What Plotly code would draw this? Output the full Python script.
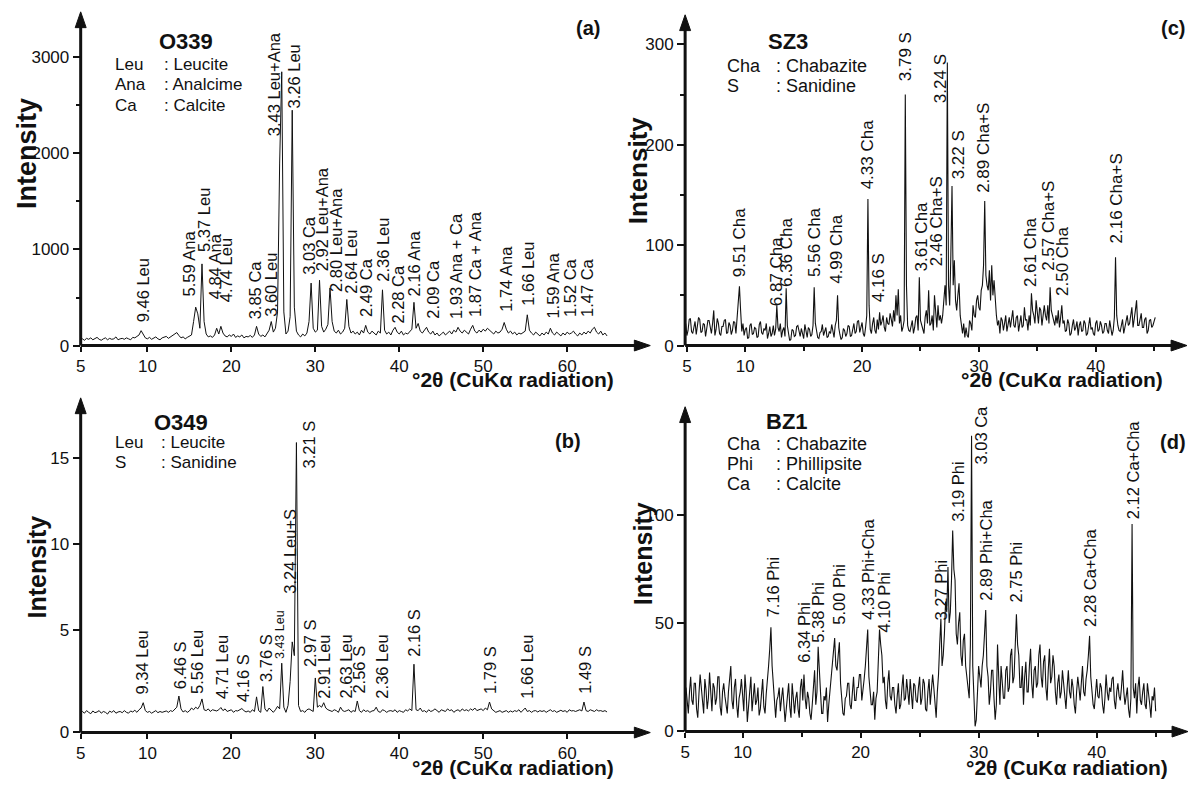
import numpy as np
import plotly.graph_objects as go

W, H = 1190, 786
FONT = "Liberation Sans, Arial, Helvetica, sans-serif"

# ---------------- data ----------------
# step-scan grids (degrees 2-theta)
two_theta_ab = np.round(2.0 + 0.25 * np.arange(252), 2)
two_theta_c = np.round(4.9 + 0.1 * np.arange(403), 2)
two_theta_d = np.round(5.2 + 0.1 * np.arange(399), 2)

intensity_a = [
    60, 70, 55, 75, 65, 80, 60, 70, 85, 65, 55, 70, 80, 60, 75, 65, 70, 90, 60, 70,
    75, 65, 80, 70, 60, 85, 80, 95, 110, 155, 120, 80, 70, 85, 65, 75, 90, 70, 60, 80,
    85, 95, 75, 90, 110, 120, 135, 105, 80, 90, 70, 85, 95, 110, 250, 400, 330, 180, 850, 250,
    120, 90, 100, 85, 110, 180, 120, 200, 130, 100, 90, 110, 95, 120, 85, 100, 90, 110, 80, 95,
    90, 105, 85, 110, 200, 120, 95, 110, 90, 120, 160, 250, 140, 180, 350, 1900, 2850, 350, 120, 150,
    300, 2450, 400, 150, 110, 90, 120, 100, 130, 250, 650, 180, 140, 160, 680, 200, 140, 170, 220, 600,
    250, 150, 130, 160, 120, 140, 180, 480, 200, 130, 150, 120, 140, 110, 160, 130, 210, 140, 120, 150,
    130, 110, 150, 130, 580, 160, 120, 140, 110, 160, 190, 140, 120, 150, 110, 130, 120, 140, 170, 450,
    180, 230, 150, 130, 160, 190, 140, 120, 150, 110, 130, 100, 120, 140, 110, 130, 150, 120, 160, 140,
    190, 150, 130, 160, 140, 120, 170, 210, 150, 130, 160, 140, 170, 150, 180, 160, 140, 120, 150, 130,
    140, 170, 240, 170, 130, 150, 120, 140, 110, 130, 120, 140, 150, 320, 160, 130, 110, 140, 120, 100,
    130, 110, 140, 120, 180, 130, 110, 140, 120, 100, 130, 110, 140, 120, 130, 150, 120, 100, 130, 110,
    140, 120, 150, 130, 170, 190, 140, 120, 150, 110, 130, 100,
]

intensity_b = [
    0.2, 0.25, 0.15, 0.3, 0.2, 0.12, 0.28, 0.18, 0.22, 0.3, 0.15, 0.25, 0.2, 0.1, 0.27, 0.2, 0.3, 0.15, 0.22, 0.25,
    0.18, 0.3, 0.2, 0.15, 0.28, 0.22, 0.32, 0.2, 0.35, 0.45, 0.76, 0.3, 0.2, 0.25, 0.15, 0.22, 0.3, 0.18, 0.25, 0.2,
    0.22, 0.28, 0.2, 0.3, 0.25, 0.35, 0.5, 1.15, 0.4, 0.22, 0.3, 0.2, 0.28, 0.45, 0.35, 0.5, 0.4, 0.6, 0.98, 0.35,
    0.3, 0.4, 0.25, 0.35, 0.3, 0.28, 0.35, 0.48, 0.3, 0.4, 0.25, 0.3, 0.35, 0.2, 0.3, 0.28, 0.35, 0.42, 0.3, 0.22,
    0.28, 0.2, 0.35, 0.25, 1.1, 0.3, 0.2, 1.7, 0.4, 0.25, 0.45, 0.3, 0.2, 0.35, 0.55, 0.4, 3.06, 0.5, 0.2, 0.6,
    2.0, 4.3, 3.5, 15.9, 0.6, 0.25, 0.3, 0.2, 0.35, 0.4, 0.3, 0.25, 2.2, 0.5, 0.6, 0.5, 0.76, 0.45, 0.35, 0.3,
    0.25, 0.35, 0.3, 0.2, 0.5, 0.3, 0.25, 0.3, 0.35, 0.2, 0.3, 0.25, 0.86, 0.3, 0.2, 0.35, 0.25, 0.3, 0.2, 0.28,
    0.3, 0.5, 0.25, 0.2, 0.35, 0.3, 0.2, 0.28, 0.3, 0.25, 0.35, 0.2, 0.3, 0.25, 0.2, 0.35, 0.28, 0.4, 0.3, 3.0,
    0.35, 0.3, 0.45, 0.25, 0.3, 0.2, 0.35, 0.25, 0.3, 0.4, 0.28, 0.2, 0.35, 0.3, 0.25, 0.4, 0.3, 0.35, 0.2, 0.3,
    0.35, 0.25, 0.4, 0.3, 0.35, 0.28, 0.4, 0.32, 0.45, 0.3, 0.35, 0.4, 0.3, 0.45, 0.35, 0.8, 0.4, 0.3, 0.2, 0.25,
    0.3, 0.2, 0.25, 0.3, 0.2, 0.28, 0.22, 0.3, 0.25, 0.35, 0.2, 0.3, 0.45, 0.25, 0.3, 0.2, 0.28, 0.3, 0.22, 0.3,
    0.25, 0.3, 0.2, 0.28, 0.35, 0.25, 0.3, 0.2, 0.28, 0.32, 0.25, 0.3, 0.2, 0.35, 0.28, 0.3, 0.25, 0.3, 0.35, 0.28,
    0.8, 0.3, 0.25, 0.35, 0.3, 0.25, 0.35, 0.28, 0.3, 0.25, 0.3, 0.22,
]

intensity_c = [
    22, 10, 15, 26, 27, 14, 12, 20, 24, 11, 18, 28, 26, 13, 14, 22, 21, 9, 17, 25,
    25, 16, 12, 22, 35, 10, 16, 27, 22, 12, 10, 19, 19, 25, 26, 12, 13, 23, 20, 11,
    15, 24, 23, 12, 30, 40, 59, 35, 14, 22, 10, 16, 18, 7, 8, 20, 22, 11, 12, 18,
    17, 8, 9, 21, 24, 13, 11, 17, 15, 22, 7, 12, 19, 9, 12, 20, 10, 16, 40, 18,
    14, 22, 8, 15, 18, 9, 57, 20, 12, 5, 6, 16, 15, 9, 10, 19, 20, 12, 9, 17,
    13, 7, 21, 14, 8, 18, 16, 9, 11, 20, 58, 22, 15, 8, 7, 13, 14, 21, 10, 15,
    18, 8, 9, 14, 12, 21, 16, 8, 20, 25, 50, 18, 11, 6, 8, 17, 15, 9, 12, 20,
    19, 9, 10, 17, 22, 12, 14, 24, 25, 13, 17, 23, 12, 9, 18, 30, 146, 40, 16, 12,
    22, 28, 15, 12, 26, 16, 33, 20, 24, 30, 18, 14, 28, 22, 21, 32, 26, 19, 35, 24,
    50, 30, 56, 22, 30, 14, 18, 25, 250, 60, 20, 15, 14, 22, 25, 12, 18, 28, 30, 15,
    68, 25, 20, 14, 12, 28, 35, 22, 55, 20, 22, 30, 15, 50, 28, 18, 40, 25, 30, 22,
    30, 45, 60, 40, 282, 60, 40, 90, 159, 60, 85, 45, 35, 50, 62, 30, 20, 12, 22, 8,
    18, 10, 8, 25, 22, 15, 40, 30, 28, 45, 50, 38, 35, 55, 60, 80, 144, 70, 60, 55,
    75, 45, 80, 50, 65, 40, 30, 20, 25, 12, 28, 25, 15, 22, 30, 14, 20, 28, 18, 25,
    35, 20, 18, 28, 30, 14, 22, 30, 18, 20, 38, 25, 26, 15, 30, 20, 52, 35, 30, 22,
    45, 30, 22, 38, 35, 20, 28, 40, 30, 25, 40, 22, 58, 35, 30, 25, 20, 30, 22, 35,
    18, 28, 40, 22, 25, 14, 15, 26, 22, 10, 12, 20, 26, 15, 18, 24, 10, 20, 24, 14,
    15, 25, 22, 10, 12, 20, 28, 16, 18, 12, 10, 22, 25, 14, 16, 24, 20, 12, 14, 22,
    22, 15, 12, 25, 18, 10, 15, 28, 88, 30, 20, 15, 14, 22, 26, 12, 18, 25, 30, 20,
    22, 30, 38, 18, 25, 35, 45, 20, 20, 28, 32, 18, 18, 26, 28, 12, 15, 25, 26, 18,
    20, 24, 28,
]

intensity_d = [
    20, 12, 8, 18, 25, 14, 12, 22, 22, 10, 6, 17, 26, 20, 14, 8, 24, 19, 10, 15,
    27, 15, 9, 22, 20, 12, 15, 25, 25, 11, 7, 18, 22, 16, 12, 8, 18, 26, 30, 14,
    10, 20, 24, 12, 6, 15, 18, 24, 13, 9, 26, 18, 4, 12, 20, 25, 9, 16, 22, 12,
    14, 20, 7, 10, 19, 24, 11, 8, 17, 22, 30, 38, 48, 30, 22, 12, 6, 14, 16, 20,
    9, 15, 20, 12, 4, 10, 15, 22, 11, 6, 22, 14, 8, 15, 18, 10, 6, 20, 24, 14,
    26, 15, 10, 18, 15, 8, 5, 12, 20, 28, 12, 18, 39, 25, 18, 8, 8, 16, 14, 20,
    4, 12, 18, 25, 30, 36, 43, 30, 28, 35, 41, 22, 12, 8, 7, 15, 16, 22, 22, 12,
    10, 18, 25, 14, 14, 20, 20, 26, 26, 14, 18, 24, 30, 38, 47, 25, 20, 12, 12, 18,
    5, 15, 18, 30, 47, 40, 35, 22, 25, 14, 10, 22, 28, 16, 14, 20, 20, 12, 8, 16,
    22, 10, 12, 20, 26, 14, 15, 24, 19, 12, 24, 18, 10, 22, 21, 14, 13, 20, 25, 12,
    15, 24, 22, 10, 9, 18, 24, 12, 18, 26, 20, 10, 6, 18, 26, 40, 52, 30, 35, 45,
    60, 55, 76, 50, 55, 70, 93, 75, 70, 45, 40, 50, 55, 35, 30, 42, 45, 30, 25, 18,
    15, 40, 137, 30, 10, 2, 5, 20, 30, 25, 20, 30, 35, 45, 56, 30, 25, 12, 18, 28,
    28, 15, 5, 12, 40, 25, 12, 30, 22, 15, 15, 28, 30, 18, 20, 35, 38, 22, 25, 40,
    54, 40, 35, 20, 20, 30, 12, 25, 32, 18, 18, 30, 38, 22, 15, 28, 30, 20, 22, 35,
    40, 25, 20, 32, 35, 20, 14, 28, 38, 22, 25, 35, 30, 18, 12, 22, 26, 15, 18, 28,
    22, 14, 10, 20, 28, 18, 15, 24, 20, 12, 8, 18, 25, 20, 14, 22, 30, 18, 16, 24,
    28, 35, 44, 25, 18, 12, 10, 20, 24, 16, 15, 22, 20, 12, 8, 15, 26, 18, 14, 20,
    18, 24, 25, 14, 10, 18, 22, 16, 14, 20, 28, 18, 12, 16, 20, 10, 6, 15, 96, 20,
    15, 22, 8, 20, 25, 14, 12, 18, 22, 12, 10, 22, 18, 12, 6, 16, 14, 20, 9,
]

# peak labels
labels_a_text = ["9.46 Leu", "5.59 Ana", "5.37 Leu", "4.84 Ana", "4.74 Leu", "3.85 Ca", "3.60 Leu",
                 "3.43 Leu+Ana", "3.26 Leu", "3.03 Ca", "2.92 Leu+Ana", "2.80 Leu+Ana", "2.64 Leu",
                 "2.49 Ca", "2.36 Leu", "2.28 Ca", "2.16 Ana", "2.09 Ca", "1.93 Ana + Ca",
                 "1.87 Ca + Ana", "1.74 Ana", "1.66 Leu", "1.59 Ana", "1.52 Ca", "1.47 Ca"]
labels_a_x = [9.41, 14.98, 16.76, 18.07, 19.37, 22.81, 24.71, 25.07, 27.44, 29.22, 30.76, 32.54, 34.32,
              36.10, 38.11, 39.89, 41.79, 44.05, 46.77, 49.03, 52.70, 55.31, 58.28, 60.41, 62.43]
labels_a_y = [226, 493, 956, 462, 432, 257, 277, 2158, 2446, 719, 750, 534, 514,
              277, 647, 206, 493, 257, 257, 277, 329, 391, 257, 277, 277]

labels_b_text = ["9.34 Leu", "6.46 S", "5.56 Leu", "4.71 Leu", "4.16 S", "3.76 S", "3.43 Leu",
                 "3.24 Leu+S", "3.21 S", "2.97 S", "2.91 Leu", "2.63 Leu", "2.56 S", "2.36 Leu",
                 "2.16 S", "1.79 S", "1.66 Leu", "1.49 S"]
labels_b_x = [9.41, 13.9, 15.9, 18.9, 21.4, 24.1, 25.8, 26.96, 29.2, 29.45, 31.0, 33.6, 35.15, 37.9,
              41.67, 50.8, 55.2, 62.1]
labels_b_y = [1.15, 1.44, 1.15, 0.86, 0.69, 1.84, 3.16, 7.0, 14.25, 2.7, 0.86, 0.86, 1.15, 0.86,
              3.33, 1.15, 0.86, 1.15]

labels_c_text = ["9.51 Cha", "6.87 Cha", "6.36 Cha", "5.56 Cha", "4.99 Cha", "4.33 Cha", "4.16 S",
                 "3.79 S", "3.61 Cha", "2.46 Cha+S", "3.24 S", "3.22 S", "2.89 Cha+S", "2.61 Cha",
                 "2.57 Cha+S", "2.50 Cha", "2.16 Cha+S"]
labels_c_x = [9.46, 12.70, 13.55, 15.94, 17.81, 20.46, 21.48, 23.78, 25.06, 26.34, 26.68, 28.21,
              30.43, 34.44, 35.97, 37.17, 41.77]
labels_c_y = [66, 37, 56, 66, 59, 154, 41, 261, 72, 77, 239, 164, 150, 56, 72, 47, 100]

labels_d_text = ["7.16 Phi", "6.34 Phi", "5.38 Phi", "5.00 Phi", "4.33 Phi+Cha", "4.10 Phi",
                 "3.27 Phi", "3.19 Phi", "3.03 Ca", "2.89 Phi+Cha", "2.75 Phi", "2.28 Ca+Cha",
                 "2.12 Ca+Cha"]
labels_d_x = [12.55, 15.17, 16.43, 18.20, 20.65, 22.00, 26.81, 28.25, 30.19, 30.61, 33.14, 39.39, 43.10]
labels_d_y = [51.8, 30.7, 39.9, 48.2, 50.5, 44.5, 50.5, 96.3, 122.9, 59.6, 58.7, 47.2, 97.2]

# sample names, phase keys, panel tags
sample_names = ["O339", "O349", "SZ3", "BZ1"]
key_abbr = [["Leu", "Ana", "Ca"], ["Leu", "S"], ["Cha", "S"], ["Cha", "Phi", "Ca"]]
key_name = [[": Leucite", ": Analcime", ": Calcite"], [": Leucite", ": Sanidine"],
            [": Chabazite", ": Sanidine"], [": Chabazite", ": Phillipsite", ": Calcite"]]
panel_tags = ["(a)", "(b)", "(c)", "(d)"]

x_ticks_ab = ["5", "10", "20", "30", "40", "50", "60"]
x_ticks_cd = ["5", "10", "20", "30", "40"]
y_ticks_a = ["0", "1000", "2000", "3000"]
y_ticks_b = ["0", "5", "10", "15"]
y_ticks_c = ["0", "100", "200", "300"]
y_ticks_d = ["0", "50", "100"]

x_title = "°2θ (CuKα radiation)"
y_title = "Intensity"

# ---------------- layout geometry (pixels) ----------------
def fx(p):
    return p / W

def fy(p):
    return 1 - p / H

panels = [
    dict(ox=76, oy=350, xt=648, yt=12, xr=[2.05, 69.9], yr=[0, 3474],
         xtv=[2.06, 10, 20, 30, 40, 50, 60], xtt=x_ticks_ab,
         ytv=[0, 1000, 2000, 3000], ytt=y_ticks_a, yminor=[500, 1500, 2500], xminor=None,
         name_xy=(182, 42), key_x=(108, 158), key_y0=65, key_dy=21, tag_xy=(585, 28),
         ytitle_xy=(22, 155), ytitle_size=27, xtitle_xy=(510, 384), lab_size=16.5, lw=1),
    dict(ox=76, oy=742, xt=648, yt=403, xr=[2.05, 69.9], yr=[-0.977, 18.5],
         xtv=[2.06, 10, 20, 30, 40, 50, 60], xtt=x_ticks_ab,
         ytv=[-0.96, 5, 10, 15], ytt=y_ticks_b, yminor=None, xminor=None,
         name_xy=(177, 428), key_x=(108, 155), key_y0=448, key_dy=20, tag_xy=(565, 447),
         ytitle_xy=(32, 574), ytitle_size=25, xtitle_xy=(510, 777), lab_size=16.5, lw=1),
    dict(ox=683, oy=350, xt=1187, yt=15, xr=[4.85, 47.82], yr=[0, 329.4],
         xtv=[5, 10, 20, 30, 40], xtt=x_ticks_cd,
         ytv=[0, 100, 200, 300], ytt=y_ticks_c, yminor=[50, 150, 250], xminor=[15, 25, 35, 45],
         name_xy=(786, 42), key_x=(723, 772), key_y0=67, key_dy=20, tag_xy=(1173, 28),
         ytitle_xy=(635, 173), ytitle_size=26, xtitle_xy=(1061, 384), lab_size=17, lw=1.1),
    dict(ox=683, oy=741, xt=1188, yt=412, xr=[5.13, 47.74], yr=[-0.46, 150.5],
         xtv=[5.14, 10, 20, 30, 40], xtt=x_ticks_cd,
         ytv=[0, 50, 100], ytt=y_ticks_d, yminor=None, xminor=[15, 25, 35, 45],
         name_xy=(785, 427), key_x=(723, 772), key_y0=450, key_dy=20, tag_xy=(1173, 448),
         ytitle_xy=(641, 561), ytitle_size=25, xtitle_xy=(1066, 777), lab_size=16.5, lw=1.1),
]

series = [(two_theta_ab, intensity_a), (two_theta_ab, intensity_b),
          (two_theta_c, intensity_c), (two_theta_d, intensity_d)]
labels = [(labels_a_text, labels_a_x, labels_a_y), (labels_b_text, labels_b_x, labels_b_y),
          (labels_c_text, labels_c_x, labels_c_y), (labels_d_text, labels_d_x, labels_d_y)]

fig = go.Figure()
annotations = []
shapes = []
layout_axes = {}

for k, p in enumerate(panels):
    sfx = "" if k == 0 else str(k + 1)
    xs, ys = series[k]
    fig.add_trace(go.Scatter(x=xs, y=ys, mode="lines", line=dict(color="#111", width=p["lw"]),
                             xaxis="x" + sfx, yaxis="y" + sfx, hoverinfo="skip"))

    tickfont = dict(family=FONT, size=17, color="#111")
    xa = dict(domain=[fx(p["ox"]), fx(p["xt"])], range=p["xr"], anchor="y" + sfx,
              showgrid=False, zeroline=False, showline=False,
              tickmode="array", tickvals=p["xtv"], ticktext=p["xtt"],
              ticks="outside", ticklen=5, tickwidth=2, tickcolor="#111", tickfont=tickfont)
    if p["xminor"]:
        xa["minor"] = dict(tickmode="array", tickvals=p["xminor"], ticks="outside",
                           ticklen=4, tickwidth=2, tickcolor="#111")
    ya = dict(domain=[fy(p["oy"]), fy(p["yt"])], range=p["yr"], anchor="x" + sfx,
              showgrid=False, zeroline=False, showline=False,
              tickmode="array", tickvals=p["ytv"], ticktext=p["ytt"],
              ticks="outside", ticklen=7, tickwidth=2, tickcolor="#111", tickfont=tickfont)
    if p["yminor"]:
        ya["minor"] = dict(tickmode="array", tickvals=p["yminor"], ticks="outside",
                           ticklen=4, tickwidth=2, tickcolor="#111")
    layout_axes["xaxis" + sfx] = xa
    layout_axes["yaxis" + sfx] = ya

    # axis lines with arrowheads
    hl, hw = 16, 5.5
    shapes.append(dict(type="line", xref="paper", yref="paper",
                       x0=fx(p["ox"]), y0=fy(p["oy"]), x1=fx(p["xt"] - hl + 2), y1=fy(p["oy"]),
                       line=dict(color="#111", width=3)))
    shapes.append(dict(type="line", xref="paper", yref="paper",
                       x0=fx(p["ox"]), y0=fy(p["oy"]), x1=fx(p["ox"]), y1=fy(p["yt"] + hl - 2),
                       line=dict(color="#111", width=3)))
    shapes.append(dict(type="path", xref="paper", yref="paper",
                       path=f"M {fx(p['xt'])} {fy(p['oy'])} L {fx(p['xt'] - hl)} {fy(p['oy'] - hw)} "
                            f"L {fx(p['xt'] - hl)} {fy(p['oy'] + hw)} Z",
                       fillcolor="#111", line=dict(color="#111", width=1)))
    shapes.append(dict(type="path", xref="paper", yref="paper",
                       path=f"M {fx(p['ox'])} {fy(p['yt'])} L {fx(p['ox'] - hw)} {fy(p['yt'] + hl)} "
                            f"L {fx(p['ox'] + hw)} {fy(p['yt'] + hl)} Z",
                       fillcolor="#111", line=dict(color="#111", width=1)))

    # peak labels
    txts, lx, ly = labels[k]
    for t, x, y in zip(txts, lx, ly):
        size = p["lab_size"]
        if k == 1 and t == "3.43 Leu":
            size = 12.5
        annotations.append(dict(text=t, x=x, y=y, xref="x" + sfx, yref="y" + sfx,
                                showarrow=False, textangle=-90, xanchor="center", yanchor="bottom",
                                font=dict(family=FONT, size=size, color="#111")))

    # sample name
    nx, ny = p["name_xy"]
    annotations.append(dict(text="<b>" + sample_names[k] + "</b>", x=fx(nx), y=fy(ny),
                            xref="paper", yref="paper", showarrow=False,
                            xanchor="center", yanchor="middle",
                            font=dict(family=FONT, size=22, color="#111")))
    # phase key
    kx1, kx2 = p["key_x"]
    for j, (ab, nm) in enumerate(zip(key_abbr[k], key_name[k])):
        yy = p["key_y0"] + j * p["key_dy"]
        annotations.append(dict(text=ab, x=fx(kx1), y=fy(yy), xref="paper", yref="paper",
                                showarrow=False, xanchor="left", yanchor="middle",
                                font=dict(family=FONT, size=17 if k < 2 else 18, color="#111")))
        annotations.append(dict(text=nm, x=fx(kx2), y=fy(yy), xref="paper", yref="paper",
                                showarrow=False, xanchor="left", yanchor="middle",
                                font=dict(family=FONT, size=17 if k < 2 else 18, color="#111")))
    # panel tag
    tx, ty = p["tag_xy"]
    annotations.append(dict(text="<b>" + panel_tags[k] + "</b>", x=fx(tx), y=fy(ty),
                            xref="paper", yref="paper", showarrow=False,
                            xanchor="center", yanchor="middle",
                            font=dict(family=FONT, size=20, color="#111")))
    # axis titles
    yx, yy = p["ytitle_xy"]
    annotations.append(dict(text="<b>" + y_title + "</b>", x=fx(yx), y=fy(yy),
                            xref="paper", yref="paper", showarrow=False, textangle=-90,
                            xanchor="center", yanchor="middle",
                            font=dict(family=FONT, size=p["ytitle_size"], color="#111")))
    xx, xy = p["xtitle_xy"]
    annotations.append(dict(text="<b>" + x_title + "</b>", x=fx(xx), y=fy(xy),
                            xref="paper", yref="paper", showarrow=False,
                            xanchor="center", yanchor="middle",
                            font=dict(family=FONT, size=21, color="#111")))

fig.update_layout(width=W, height=H, margin=dict(l=0, r=0, t=0, b=0),
                  paper_bgcolor="white", plot_bgcolor="white", showlegend=False,
                  annotations=annotations, shapes=shapes, **layout_axes)

fig.write_html("out.html", config={"displayModeBar": False},
               post_script="document.body.style.margin='0';document.body.style.overflow='hidden';")
